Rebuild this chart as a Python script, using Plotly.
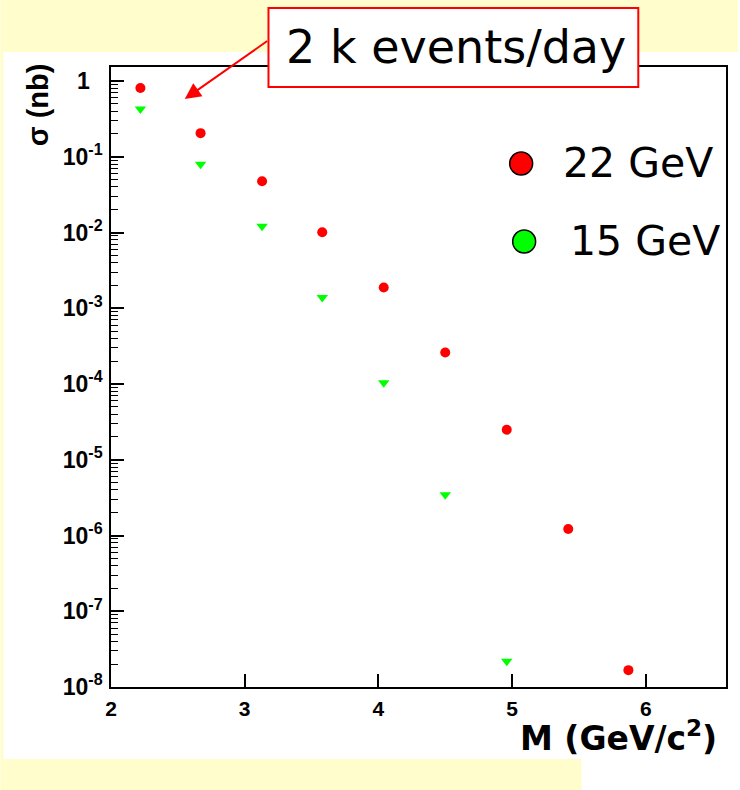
import plotly.graph_objects as go

# Dilepton cross section vs mass, log scale
mass_22 = [2.22, 2.67, 3.13, 3.58, 4.04, 4.50, 4.96, 5.42, 5.87]
sigma_22 = [0.81, 0.205, 0.0475, 0.0101, 1.88e-3, 2.6e-4, 2.49e-5, 1.22e-6, 1.67e-8]

mass_15 = [2.22, 2.67, 3.13, 3.58, 4.04, 4.50, 4.96]
sigma_15 = [0.426, 0.0798, 0.0121, 1.39e-3, 1.04e-4, 3.44e-6, 2.19e-8]

x_ticks = [2, 3, 4, 5, 6]
y_exponents = [0, -1, -2, -3, -4, -5, -6, -7, -8]

W, H = 740, 790
L, R, T, B = 111, 12, 67, 103
PW, PH = W - L - R, H - T - B


def px(x):
    return (x - L) / PW


def py(y):
    return (H - B - y) / PH


YELLOW = "#FFFDCC"
LABEL_FONT = "DejaVu Sans"
AXIS_FONT = "Liberation Sans, Arial, sans-serif"

fig = go.Figure()

fig.add_trace(go.Scatter(
    x=mass_22, y=sigma_22, mode="markers", name="22 GeV",
    marker=dict(symbol="circle", size=10, color="#FF0000", line=dict(width=0)),
))
fig.add_trace(go.Scatter(
    x=mass_15, y=sigma_15, mode="markers", name="15 GeV",
    marker=dict(symbol="triangle-down", size=10, color="#00FF00", line=dict(width=0)),
))

y_tickvals = [10.0 ** e for e in y_exponents]
y_ticktext = ["<b>1\u00a0\u00a0</b>" if e == 0 else "<b>10<sup>%d</sup></b>" % e for e in y_exponents]
y_minor = [m * 10.0 ** e for e in range(-8, 1) for m in range(2, 10) if m * 10.0 ** e < 1.6]

shapes = [
    # pale yellow slide background bands
    dict(type="rect", xref="paper", yref="paper", x0=px(0), x1=px(W), y0=py(52), y1=py(0),
         fillcolor=YELLOW, line=dict(width=0), layer="below"),
    dict(type="rect", xref="paper", yref="paper", x0=px(0), x1=px(3), y0=py(759), y1=py(52),
         fillcolor=YELLOW, line=dict(width=0), layer="below"),
    dict(type="rect", xref="paper", yref="paper", x0=px(0), x1=px(583), y0=py(H), y1=py(759),
         fillcolor=YELLOW, line=dict(width=0), layer="below"),
    # callout box
    dict(type="rect", xref="paper", yref="paper", x0=px(269), x1=px(640), y0=py(87), y1=py(8),
         fillcolor="white", line=dict(color="#FF0000", width=2), layer="above"),
    # legend discs
    dict(type="circle", xref="paper", yref="paper", x0=px(511), x1=px(534), y0=py(175), y1=py(152),
         fillcolor="#FF0000", line=dict(color="black", width=1.5)),
    dict(type="circle", xref="paper", yref="paper", x0=px(514), x1=px(537), y0=py(253), y1=py(230),
         fillcolor="#00FF00", line=dict(color="black", width=1.5)),
]

annotations = [
    dict(xref="paper", yref="paper", x=px(457), y=py(47), text="2 k events/day",
         showarrow=False, font=dict(family=LABEL_FONT, size=46, color="black"),
         xanchor="center", yanchor="middle"),
    dict(xref="paper", yref="paper", x=px(185), y=py(99), text="",
         showarrow=True, axref="pixel", ayref="pixel", ax=84, ay=-59,
         arrowcolor="#FF0000", arrowwidth=2, arrowhead=2, arrowsize=1.6, standoff=0),
    dict(xref="paper", yref="paper", x=px(562), y=py(163), text="22 GeV",
         showarrow=False, font=dict(family=LABEL_FONT, size=41, color="black"),
         xanchor="left", yanchor="middle"),
    dict(xref="paper", yref="paper", x=px(569), y=py(241), text="15 GeV",
         showarrow=False, font=dict(family=LABEL_FONT, size=41, color="black"),
         xanchor="left", yanchor="middle"),
    dict(xref="paper", yref="paper", x=px(721), y=py(736), text="<b>M (GeV/c<sup>2</sup>)</b>",
         showarrow=False, font=dict(family=LABEL_FONT, size=33, color="black"),
         xanchor="right", yanchor="middle"),
    dict(xref="paper", yref="paper", x=px(38), y=py(105), text="<b>σ (nb)</b>",
         showarrow=False, textangle=-90, font=dict(family=AXIS_FONT, size=29, color="black"),
         xanchor="center", yanchor="middle"),
]

fig.update_layout(
    width=W, height=H,
    margin=dict(l=L, r=R, t=T, b=B, pad=0),
    paper_bgcolor="white", plot_bgcolor="white",
    showlegend=False,
    shapes=shapes, annotations=annotations,
    xaxis=dict(
        range=[2, 6.6], showgrid=False, zeroline=False,
        showline=True, linecolor="black", linewidth=1.5, mirror=True,
        ticks="inside", ticklen=13, tickwidth=1.5, tickcolor="black",
        tickvals=x_ticks, ticktext=["<b>%d</b>" % v for v in x_ticks],
        tickfont=dict(family=AXIS_FONT, size=21, color="black"),
        ticklabelstandoff=2,
    ),
    yaxis=dict(
        type="log", range=[-8, 0.185], showgrid=False, zeroline=False,
        showline=True, linecolor="black", linewidth=1.5, mirror=True,
        ticks="inside", ticklen=13, tickwidth=1.5, tickcolor="black",
        tickvals=y_tickvals, ticktext=y_ticktext,
        tickfont=dict(family=AXIS_FONT, size=23, color="black"),
        ticklabelstandoff=2,
        minor=dict(ticks="inside", ticklen=7, tickwidth=1.2, tickcolor="black",
                   tickmode="array", tickvals=y_minor, showgrid=False),
    ),
)

fig.write_html("out.html")
